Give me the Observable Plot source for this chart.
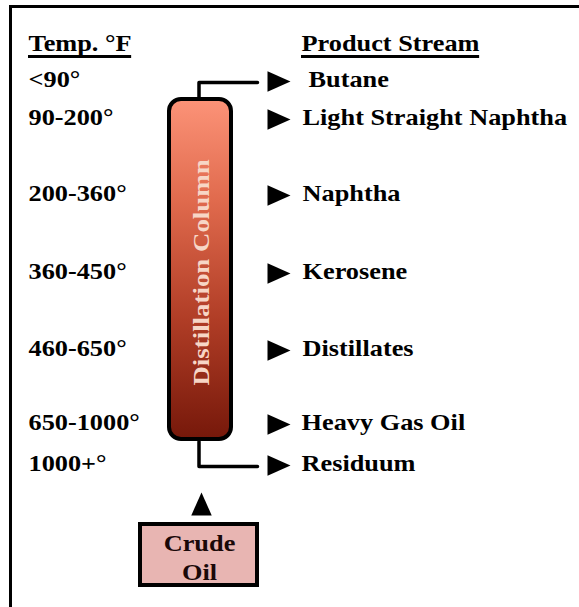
<!DOCTYPE html>
<html><head><meta charset="utf-8">
<script src="https://cdn.jsdelivr.net/npm/d3@7"></script>
<script src="https://cdn.jsdelivr.net/npm/@observablehq/plot@0.6"></script>
<style>
html,body{margin:0;padding:0;background:#fff;}
#chart svg{display:block;}
</style>
</head><body>
<div id="chart"></div>
<script>
// ---- data ----
const headers = ["Temp. °F", "Product Stream"];
const temps = ["<90°", "90-200°", "200-360°", "360-450°", "460-650°", "650-1000°", "1000+°"];
const products = ["Butane", "Light Straight Naphtha", "Naphtha", "Kerosene", "Distillates", "Heavy Gas Oil", "Residuum"];
const columnLabel = "Distillation Column";
const feedLabel = "Crude\nOil";

// ---- layout ----
const W = 579, H = 607;
const rowY = [79, 117, 193, 271, 348, 422, 463];
const productX = [308, 302, 302, 302, 302, 301, 301];
const tempX = 28;
const headerX = [28, 301];
const headerY = 43, underlineY = 56;
const arrowX = 278.5;
const FONT = "'Liberation Serif', 'Times New Roman', serif";
const FS = 23.5, SX = 1.12;

const rows = temps.map((t, i) => ({temp: t, product: products[i], y: rowY[i], px: productX[i]}));

const ctx = document.createElement("canvas").getContext("2d");
ctx.font = `bold ${FS}px 'Liberation Serif'`;
const textW = (s) => ctx.measureText(s).width * SX;

const pipeTop = [[198.5, 98], [198.5, 82], [257, 82]];
const pipeBottom = [[198.5, 441], [198.5, 466], [257, 466]];

const arrowSym = {
  draw(c, size) {
    const r = Math.sqrt(size / Math.PI);
    const w = 2.8 * r, h = 2.5 * r;
    c.moveTo(w / 2, 0);
    c.lineTo(-w / 2, -h / 2);
    c.lineTo(-w / 2, h / 2);
    c.closePath();
  }
};

const textStyle = {fontFamily: FONT, fontWeight: "bold", fontSize: FS, fill: "black", textAnchor: "start"};

const svg = Plot.plot({
  width: W, height: H,
  margin: 0,
  x: {domain: [0, W], range: [0, W], axis: null},
  y: {domain: [0, H], range: [0, H], axis: null},
  style: {background: "white", fontFamily: FONT},
  marks: [
    // frame
    Plot.ruleX([10], {y1: 5, y2: H, stroke: "black", strokeWidth: 3}),
    Plot.ruleY([6], {x1: 9, x2: W, stroke: "black", strokeWidth: 3}),
    // pipes
    Plot.line(pipeTop, {x: d => d[0], y: d => d[1], stroke: "black", strokeWidth: 3.5}),
    Plot.line(pipeBottom, {x: d => d[0], y: d => d[1], stroke: "black", strokeWidth: 3.5}),
    // column
    Plot.rect([0], {x1: 169, x2: 231, y1: 99, y2: 439, rx: 12, ry: 12, fill: "url(#colGrad)", stroke: "black", strokeWidth: 4}),
    Plot.text([columnLabel], {x: 201, y: 272, text: d => d, rotate: -90, fontFamily: FONT, fontWeight: "bold", fontSize: 24, fill: "#f7d6c6"}),
    // crude oil box
    Plot.rect([0], {x1: 140, x2: 257, y1: 524, y2: 585, fill: "#e8b5b2", stroke: "black", strokeWidth: 4}),
    Plot.text([feedLabel], {x: 199, y: 556, text: d => d, lineHeight: 1.22, fontFamily: FONT, fontWeight: "bold", fontSize: FS, fill: "#1a0808"}),
    Plot.dot([0], {x: 201, y: 503.5, r: 8.2, symbol: arrowSym, rotate: -90, fill: "black"}),
    // headers
    Plot.text(headers, {x: (d, i) => headerX[i], y: headerY, text: d => d, ...textStyle}),
    Plot.ruleY(headers, {y: underlineY, x1: (d, i) => headerX[i], x2: (d, i) => headerX[i] + textW(d), stroke: "black", strokeWidth: 3}),
    // rows
    Plot.text(rows, {x: tempX, y: "y", text: "temp", ...textStyle}),
    Plot.dot(rows, {x: arrowX, y: d => d.y + 2, r: 8.2, symbol: arrowSym, fill: "black"}),
    Plot.text(rows, {x: "px", y: "y", text: "product", ...textStyle})
  ]
});

// gradient for column
const NS = "http://www.w3.org/2000/svg";
const defs = document.createElementNS(NS, "defs");
const grad = document.createElementNS(NS, "linearGradient");
grad.setAttribute("id", "colGrad");
grad.setAttribute("x1", "0"); grad.setAttribute("y1", "0");
grad.setAttribute("x2", "0"); grad.setAttribute("y2", "1");
[[0, "#fc9378"], [0.3, "#e06a4d"], [0.65, "#b03d26"], [1, "#76180a"]].forEach(([o, c]) => {
  const s = document.createElementNS(NS, "stop");
  s.setAttribute("offset", o);
  s.setAttribute("stop-color", c);
  grad.appendChild(s);
});
defs.appendChild(grad);
svg.insertBefore(defs, svg.firstChild);

// widen serif glyphs along the text direction
svg.querySelectorAll("text").forEach(t => {
  const tr = t.getAttribute("transform");
  if (tr) t.setAttribute("transform", tr + ` scale(${SX},1)`);
});

document.getElementById("chart").appendChild(svg);
</script>
</body></html>
